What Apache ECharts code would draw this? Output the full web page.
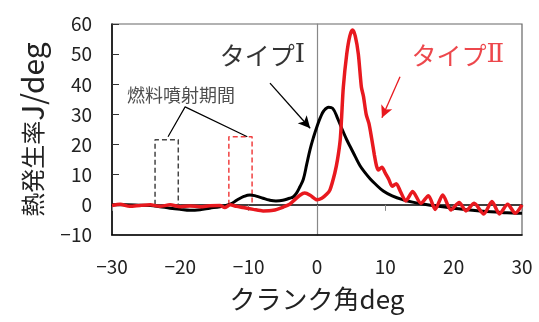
<!DOCTYPE html>
<html>
<head>
<meta charset="utf-8">
<script src="https://cdn.jsdelivr.net/npm/echarts@6/dist/echarts.min.js"></script>
<style>html,body{margin:0;padding:0;background:#fff;}#c{width:539px;height:322px;}</style>
</head>
<body>
<div id="c"></div>
<script>
// Type I (black) heat release rate
const typeIDeg = [-30,-28,-26,-24.4,-23,-21.5,-20,-18.6,-17.1,-15.7,-14.2,-12.7,-11.7,-10.7,-9.8,-8.9,-7.9,-7,-6,-5,-4,-3.5,-3,-2.5,-2,-1.5,-1,-0.5,0,0.5,1,1.7,2.3,3,3.6,4.35,5,5.6,6.3,7,7.8,8.5,9.7,11,12.6,14,15.5,17.5,19.9,22,24.8,27,29.2,30];
const typeIVal = [0,0,-0.1,-0.2,-0.6,-1.1,-1.5,-1.8,-1.6,-1.1,-0.6,0.2,1.6,2.8,3.3,2.9,2.2,1.6,1.3,1.5,2.2,2.6,3.9,6,8.5,13.5,18.5,22.5,26,29,31.2,32.4,32,28.8,25.5,21.6,18.7,16,13,10.8,8.6,7,4.6,3,1.7,0.9,0.3,-0.4,-1.1,-1.6,-2.2,-2.5,-2.8,-2.8];
// Type II (red) heat release rate
const typeIIDeg = [-30,-28.8,-27.4,-25.9,-24.4,-23,-21.5,-20,-18.6,-17.1,-15.7,-14.2,-13.5,-12.7,-11.8,-10.8,-9.3,-7.9,-6.4,-4.9,-4,-3.2,-2.5,-1.8,-1,0,0.7,1.4,1.9,2.6,3,3.4,3.6,3.85,4.35,4.8,5.2,5.6,6.05,6.5,6.8,7.2,7.6,8,8.4,8.7,9,9.5,10,10.5,11,11.6,12.2,13,14,15.2,16.3,17.3,18.4,19.6,20.8,21.8,23,24.4,25.6,26.7,27.9,29,30];
const typeIIVal = [-0.2,0.2,-0.5,-0.2,0,-0.5,0,-0.6,-0.4,-0.6,-0.3,-0.2,-0.9,0,-0.5,-0.9,-1.5,-2,-1.8,-0.7,0.2,1.8,3.2,3.9,3.2,1.7,2.2,3.5,5,10.5,15,21.6,29,39,50,56,58,56,50,39,36,30,27,22,16.5,13,11.6,12.5,10.5,8.5,6.2,7,4.5,1.3,4.4,0.5,3,-1.5,3.3,-1.7,0.8,-2,0.5,-3,1.1,-3,0.2,-2.8,0];
// Fuel injection period boxes [deg start, deg end, top]
const injBoxI = [-23.7, -20.3, 21.6];
const injBoxII = [-12.9, -9.5, 22.6];
// Axis settings
const xMin = -30, xMax = 30, xStep = 10;
const yMin = -10, yMax = 60, yStep = 10;
// Texts
const xTitle = 'クランク角deg';
const yTitleJa = '熱発生率';
const yTitleUnit = 'J/deg';
const labelIKana = 'タイプ', labelINum = 'Ⅰ';
const labelIIKana = 'タイプ', labelIINum = 'Ⅱ';
const labelInj = '燃料噴射期間';
// Annotation anchor points (data coordinates)
const labelIPos = [-8.0, 49.6];
const labelIIPos = [20.6, 49.6];
const labelInjPos = [-19.9, 36.5];
const arrowI = [[-6.88, 40.4], [-1.0, 25.4]];
const arrowII = [[12.15, 42.5], [9.5, 28.9]];
const injLeader = [[-21.8, 22.6], [-19.3, 32.5], [-10.2, 22.6]];

const FONT = '"Noto Sans CJK JP", "Noto Sans", sans-serif';
const SERIF = '"DejaVu Serif", "Liberation Serif", serif';
const RED = '#e8191f';
const zip = (a, b) => a.map((v, i) => [v, b[i]]);
const box = b => [[b[0], 0], [b[0], b[2]], [b[1], b[2]], [b[1], 0]];
const fmt = v => String(v).replace('-', '\u2212');

const chart = echarts.init(document.getElementById('c'), null, {renderer: 'canvas'});
chart.setOption({
  animation: false,
  backgroundColor: '#fff',
  grid: {left: 112, right: 17, top: 24, bottom: 87, show: true, borderColor: '#666', borderWidth: 1.2, backgroundColor: 'transparent'},
  xAxis: [{
    type: 'value', min: xMin, max: xMax, interval: xStep,
    axisLine: {onZero: false, lineStyle: {color: '#000', width: 1.5}},
    axisTick: {show: false}, splitLine: {show: false},
    axisLabel: {margin: 22, fontSize: 19, color: '#222', fontFamily: FONT, formatter: fmt},
    name: xTitle, nameLocation: 'middle', nameGap: 51,
    nameTextStyle: {fontSize: 26, color: '#222', fontFamily: FONT}
  }, {
    type: 'value', min: xMin, max: xMax, interval: xStep,
    axisLine: {onZero: true, lineStyle: {color: '#000', width: 1.5}},
    axisTick: {show: true, inside: true, length: 6, lineStyle: {color: '#888', width: 1}},
    axisLabel: {show: false}, splitLine: {show: false}
  }],
  yAxis: [{
    type: 'value', min: yMin, max: yMax, interval: yStep,
    axisLine: {show: true, onZero: false, lineStyle: {color: '#000', width: 1.5}},
    axisTick: {show: true, inside: true, length: 7, lineStyle: {color: '#333', width: 1}},
    splitLine: {show: false},
    axisLabel: {margin: 20, fontSize: 19, color: '#222', fontFamily: FONT, formatter: fmt},
    name: '{a|' + yTitleJa + '}{b|' + yTitleUnit + '}', nameLocation: 'middle', nameGap: 64, nameRotate: 90,
    nameTextStyle: {color: '#222', fontFamily: FONT, rich: {
      a: {fontSize: 24, color: '#222', fontFamily: FONT},
      b: {fontSize: 30, color: '#222', fontFamily: FONT}
    }}
  }, {
    type: 'value', min: yMin, max: yMax, interval: yStep, position: 'left',
    axisLine: {show: true, onZero: true, lineStyle: {color: '#888', width: 1.2}},
    axisTick: {show: false}, axisLabel: {show: false}, splitLine: {show: false}
  }],
  series: [
    {type: 'line', data: zip(typeIDeg, typeIVal), showSymbol: false, smooth: 0.4,
     lineStyle: {color: '#000', width: 3}, z: 3},
    {type: 'line', data: zip(typeIIDeg, typeIIVal), showSymbol: false, smooth: 0.25,
     lineStyle: {color: RED, width: 3.5}, z: 4},
    {type: 'line', data: box(injBoxI), showSymbol: false,
     lineStyle: {color: '#444', width: 1.5, type: [5, 3]}, z: 2},
    {type: 'line', data: box(injBoxII), showSymbol: false,
     lineStyle: {color: '#f04040', width: 1.5, type: [5, 3]}, z: 2},
    {type: 'line', data: injLeader, showSymbol: false,
     lineStyle: {color: '#000', width: 1.2}, z: 2},
    {type: 'line', data: [], z: 5,
     markLine: {silent: true, symbol: ['none', 'arrow'], symbolSize: [9, 12], label: {show: false},
       data: [
         [{coord: arrowI[0], lineStyle: {color: '#000', width: 1.3, type: 'solid'}}, {coord: arrowI[1]}],
         [{coord: arrowII[0], lineStyle: {color: RED, width: 1.3, type: 'solid'}}, {coord: arrowII[1]}]
       ]}},
    {type: 'scatter', symbolSize: 0, z: 6,
     data: [
       {value: labelIPos, name: '{k|' + labelIKana + '}{n|' + labelINum + '}',
        label: {rich: {k: {fontSize: 25, color: '#000', fontFamily: FONT}, n: {fontSize: 26, color: '#000', fontFamily: SERIF}}}},
       {value: labelIIPos, name: '{k|' + labelIIKana + '}{n|' + labelIINum + '}',
        label: {rich: {k: {fontSize: 25, color: RED, fontFamily: FONT}, n: {fontSize: 26, color: RED, fontFamily: SERIF}}}},
       {value: labelInjPos, name: '{t|' + labelInj + '}',
        label: {rich: {t: {fontSize: 18, color: '#222', fontFamily: FONT}}}}
     ],
     label: {show: true, position: 'inside', formatter: p => p.name, fontFamily: FONT}}
  ]
});
</script>
</body>
</html>
